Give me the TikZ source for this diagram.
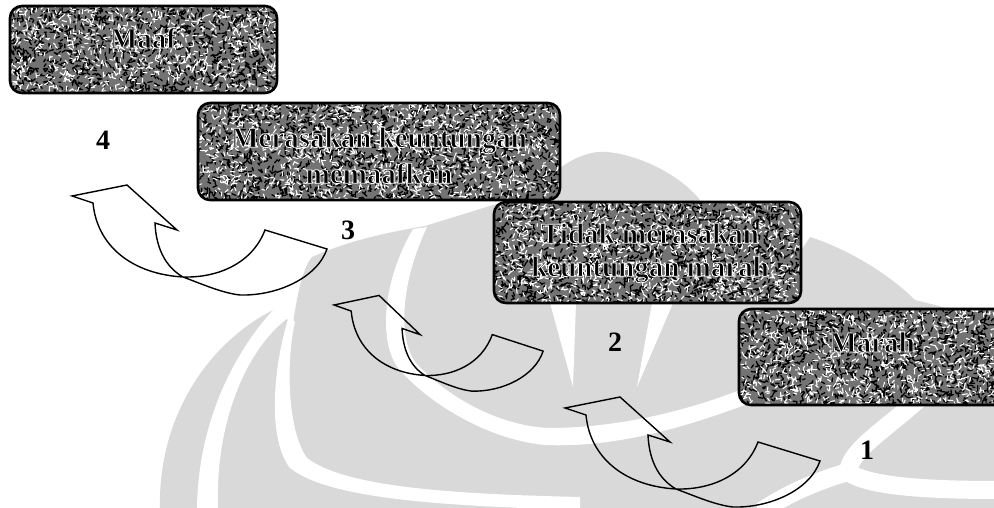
\documentclass[tikz,border=0pt]{standalone}
\usepackage{fontspec}
\setmainfont{Liberation Serif}
\newcommand\halo[1]{\special{pdf:literal direct 2 Tr 0.8 w 1 1 1 RG}#1\special{pdf:literal direct 0 Tr 0 0 0 RG}}
\newcommand\curlyarrowpath{(21,7) -- (0,0) -- (55,-11) -- (105,34) -- (83,27) .. controls (84,50) and (92,70) .. (111,81) .. controls (60,78) and (25,50) .. (21,7) -- cycle (111,81) .. controls (130,88) and (150,97) .. (168,99) .. controls (205,100) and (245,82) .. (255,53) -- (193,34) .. controls (180,68) and (145,82) .. (111,81) -- cycle}
\newcommand\texturebox[4]{%
  \begin{scope}
    \clip[rounded corners=12pt] (#1,#2) rectangle (#3,#4);
    \fill[black!55] (#1,#2) rectangle (#3,#4);
    \pgfmathtruncatemacro\nseg{(#3-#1)/20*(#4-#2)}
    \draw[line width=1.3pt, black, line cap=round] \foreach \i in {1,...,\nseg} { ({#1+rnd*(#3-#1)},{#2+rnd*(#4-#2)}) -- ++({rnd*360}:{2+3*rnd}) };
    \pgfmathtruncatemacro\nsegw{(#3-#1)/30*(#4-#2)}
    \draw[line width=1.1pt, white, line cap=round] \foreach \i in {1,...,\nsegw} { ({#1+rnd*(#3-#1)},{#2+rnd*(#4-#2)}) -- ++({rnd*360}:{2+3*rnd}) };
  \end{scope}}
\tikzset{
  wm/.style={fill=black!15, draw=none},
  wmgap/.style={fill=white, draw=none},
  arr/.style={draw=black, line width=1.4pt, line join=miter},
  boxframe/.style={draw=black, line width=2.6pt, rounded corners=12pt, inner sep=0pt},
  boxtxt/.style={font=\bfseries\fontsize{29}{34}\selectfont, align=center, inner sep=0pt},
  num/.style={font=\bfseries\fontsize{28}{30}\selectfont, inner sep=0pt},
}
\begin{document}
\begin{tikzpicture}[x=1pt,y=-1pt]
\useasboundingbox (0,0) rectangle (994,508);
\clip (0,0) rectangle (994,508);
\pgfmathsetseed{7}
% watermark
\fill[wm] (160,508) .. controls (158,420) and (205,345) .. (273,310) -- (293,323) .. controls (298,290) and (303,268) .. (312,257) .. controls (350,240) and (390,232) .. (425,226) -- (493,205) -- (540,190) .. controls (560,160) and (590,150) .. (607,152) .. controls (640,155) and (680,175) .. (700,200) -- (720,260) -- (795,260) -- (810,237) .. controls (850,250) and (890,275) .. (915,300) -- (994,320) -- (994,508) -- cycle;
\fill[wmgap] (273,310) .. controls (228,360) and (198,430) .. (197,508) -- (218,508) .. controls (215,425) and (245,350) .. (288,318) -- cycle;
\fill[wmgap] (289,316) .. controls (272,370) and (268,440) .. (290,468) .. controls (330,500) and (450,506) .. (580,510) -- (580,497) .. controls (450,494) and (345,487) .. (307,458) .. controls (287,430) and (286,360) .. (295,322) -- cycle;
\fill[wmgap] (413,229) .. controls (383,280) and (378,340) .. (398,368) .. controls (430,405) and (490,440) .. (545,445) .. controls (620,448) and (690,425) .. (745,405) -- (745,388) .. controls (690,410) and (620,428) .. (548,428) .. controls (495,425) and (445,395) .. (415,362) .. controls (397,335) and (402,280) .. (427,227) -- cycle;
\fill[wmgap] (550,303) -- (576,303) -- (573,387) -- cycle;
\fill[wmgap] (652,303) -- (673,303) -- (637,387) -- cycle;
\draw[white, line width=18pt] (920,398) .. controls (885,430) and (850,450) .. (848,472) .. controls (870,488) and (940,490) .. (1000,490);
\draw[white, line width=18pt] (848,472) .. controls (820,480) and (790,492) .. (760,512);
% arrows
\begin{scope}[shift={(72,196)}]
  \draw[arr] \curlyarrowpath;
\end{scope}
\begin{scope}[shift={(334,305)}, xscale=0.82, yscale=0.87]
  \draw[arr] \curlyarrowpath;
\end{scope}
\begin{scope}[shift={(565,408)}]
  \draw[arr] \curlyarrowpath;
\end{scope}
% boxes
\texturebox{10}{6}{277}{93}
\node[boxframe, minimum width=267pt, minimum height=87pt] (b1) at (143.5,49.5) {};
\node[boxtxt, anchor=base] (t1) at (143,48) {\halo{Maaf}};
\texturebox{198}{103}{560}{200}
\node[boxframe, minimum width=362pt, minimum height=97pt] (b2) at (379,151.5) {};
\node[boxtxt, anchor=north, font=\bfseries\fontsize{29}{36}\selectfont] (t2) at (379,127) {\halo{Merasakan keuntungan}\\\halo{memaafkan}};
\texturebox{494}{202}{801}{303}
\node[boxframe, minimum width=307pt, minimum height=101pt] (b3) at (647.5,252.5) {};
\node[boxtxt, anchor=north, font=\bfseries\fontsize{29}{33}\selectfont] (t3) at (650,223) {\halo{Tidak merasakan}\\\halo{keuntungan marah}};
\texturebox{739}{309}{1012}{405}
\node[boxframe, minimum width=273pt, minimum height=96pt] (b4) at (875.5,357) {};
\node[boxtxt, anchor=base] (t4) at (872,352) {\halo{Marah}};
% numbers
\node[num, anchor=base] (n4) at (103,150) {4};
\node[num, anchor=base] (n3) at (348,239) {3};
\node[num, anchor=base] (n2) at (615,351) {2};
\node[num, anchor=base] (n1) at (867,459) {1};
\end{tikzpicture}
\end{document}
